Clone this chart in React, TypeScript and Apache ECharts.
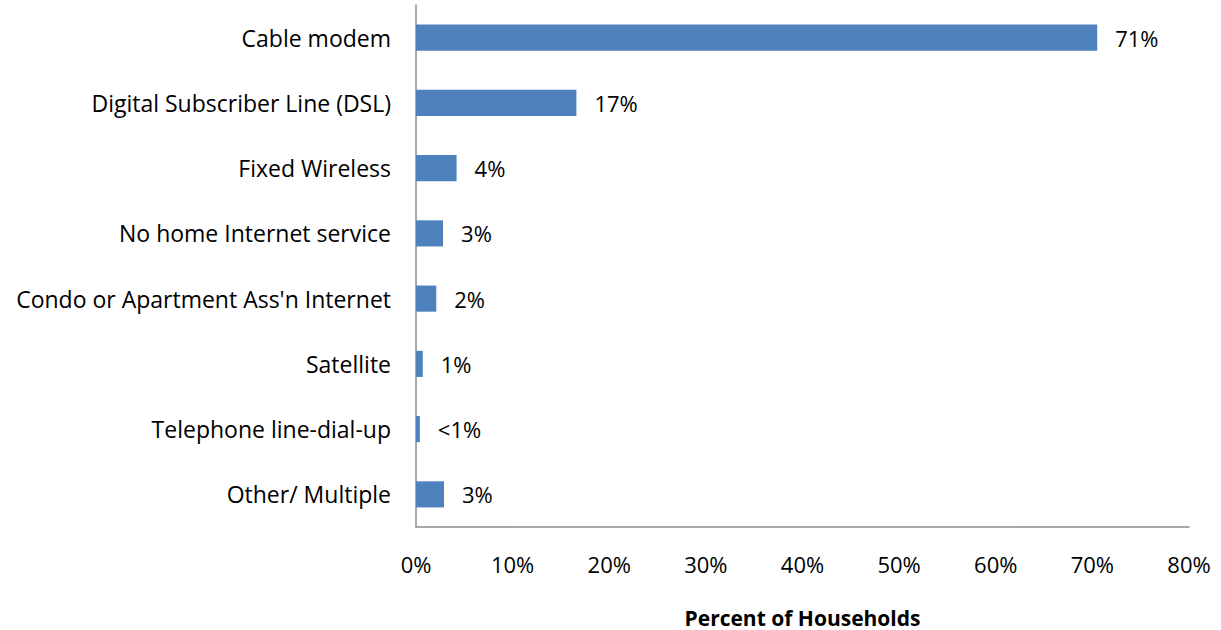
import React, { useEffect, useRef } from "react";
import * as echarts from "echarts";

const categories = [
  "Cable modem",
  "Digital Subscriber Line (DSL)",
  "Fixed Wireless",
  "No home Internet service",
  "Condo or Apartment Ass'n Internet",
  "Satellite",
  "Telephone line-dial-up",
  "Other/ Multiple",
];
const values = [70.5, 16.6, 4.2, 2.8, 2.1, 0.7, 0.4, 2.9];
const labels = ["71%", "17%", "4%", "3%", "2%", "1%", "<1%", "3%"];

export default function App() {
  const ref = useRef<HTMLDivElement>(null);
  useEffect(() => {
    const chart = echarts.init(ref.current!, null, { renderer: "svg" });
    const font = "'Open Sans', sans-serif";
    chart.setOption({
      animation: false,
      textStyle: { fontFamily: font },
      grid: { left: 416, right: 32, top: 5, height: 522, containLabel: false, outerBoundsMode: "none" },
      xAxis: {
        type: "value",
        min: 0,
        max: 80,
        interval: 10,
        axisLine: { show: true, lineStyle: { color: "#8c8c8c", width: 1.5 } },
        axisTick: { show: false },
        splitLine: { show: false },
        axisLabel: {
          formatter: (v: number) => v + "%",
          fontSize: 22,
          color: "#000",
          margin: 26,
          fontFamily: font,
        },
        name: "Percent of Households",
        nameLocation: "middle",
        nameGap: 80,
        nameTextStyle: { fontSize: 21, fontWeight: "bold", color: "#000", fontFamily: font },
      },
      yAxis: {
        type: "category",
        data: categories,
        inverse: true,
        axisLine: { show: true, lineStyle: { color: "#8c8c8c", width: 1.5 } },
        axisTick: { show: false },
        axisLabel: { fontSize: 23, color: "#000", margin: 25, fontFamily: font },
      },
      series: [
        {
          type: "bar",
          data: values,
          barCategoryGap: "60%",
          itemStyle: { color: "#4F81BD" },
          label: {
            show: true,
            position: "right",
            distance: 18,
            fontSize: 22,
            color: "#000",
            fontFamily: font,
            formatter: (p: any) => labels[p.dataIndex],
          },
        },
      ],
    });
    return () => chart.dispose();
  }, []);
  return (
    <div
      ref={ref}
      style={{ position: "fixed", left: 0, top: 0, width: 1221, height: 630, background: "#fff" }}
    />
  );
}
